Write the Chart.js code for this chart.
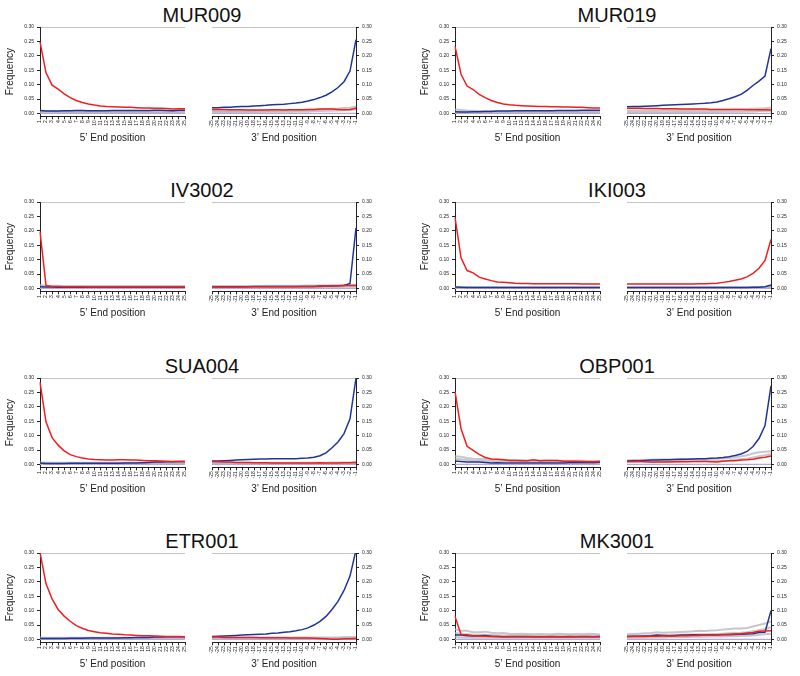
<!DOCTYPE html>
<html><head><meta charset="utf-8">
<script src="https://cdn.jsdelivr.net/npm/chart.js@4.4.1/dist/chart.umd.min.js"></script>
<style>
html,body{margin:0;padding:0;background:#fff;overflow:hidden;width:800px;height:676px;}
#wrap{position:relative;width:800px;height:676px;overflow:hidden;}
canvas{position:absolute;}
.ttl{position:absolute;font-family:"Liberation Sans",Arial,sans-serif;font-size:20px;color:#111;width:200px;text-align:center;line-height:24px;}
</style></head><body><div id="wrap"></div>
<script>
// ---------- tick labels / categories ----------
const POS5 = ['1','2','3','4','5','6','7','8','9','10','11','12','13','14','15','16','17','18','19','20','21','22','23','24','25'];
const POS3 = ['-25','-24','-23','-22','-21','-20','-19','-18','-17','-16','-15','-14','-13','-12','-11','-10','-9','-8','-7','-6','-5','-4','-3','-2','-1'];
const YTICKS = ['0.00','0.05','0.10','0.15','0.20','0.25','0.30'];
const SAMPLES = ['MUR009','MUR019','IV3002','IKI003','SUA004','OBP001','ETR001','MK3001'];
const ZERO = [0,0,0,0,0,0,0,0,0,0,0,0,0,0,0,0,0,0,0,0,0,0,0,0,0];

// ---------- MUR009 ----------
const MUR009_CT5 = [0.248,0.141,0.098,0.084,0.068,0.055,0.045,0.038,0.033,0.029,0.026,0.024,0.023,0.022,0.021,0.021,0.020,0.019,0.019,0.018,0.018,0.017,0.015,0.016,0.016];
const MUR009_GA5 = [0.010,0.008,0.008,0.008,0.009,0.009,0.010,0.010,0.009,0.009,0.009,0.009,0.010,0.010,0.010,0.010,0.010,0.010,0.010,0.011,0.011,0.010,0.009,0.011,0.011];
const MUR009_O5A = [0.009,0.008,0.008,0.007,0.007,0.007,0.007,0.007,0.007,0.007,0.007,0.006,0.006,0.006,0.006,0.006,0.006,0.006,0.006,0.006,0.006,0.006,0.006,0.007,0.007];
const MUR009_O5B = [0.004,0.004,0.004,0.004,0.003,0.003,0.003,0.003,0.003,0.003,0.003,0.003,0.003,0.003,0.003,0.003,0.003,0.003,0.003,0.003,0.003,0.003,0.003,0.003,0.004];
const MUR009_CT3 = [0.014,0.014,0.014,0.013,0.013,0.013,0.012,0.012,0.012,0.012,0.013,0.013,0.012,0.013,0.013,0.013,0.014,0.014,0.015,0.015,0.015,0.014,0.013,0.014,0.018];
const MUR009_GA3 = [0.020,0.020,0.021,0.021,0.023,0.024,0.024,0.026,0.027,0.028,0.030,0.031,0.032,0.034,0.036,0.039,0.043,0.048,0.055,0.063,0.075,0.090,0.110,0.147,0.256];
const MUR009_O3A = [0.008,0.008,0.008,0.008,0.009,0.009,0.009,0.009,0.010,0.010,0.010,0.010,0.011,0.011,0.011,0.012,0.012,0.013,0.014,0.015,0.016,0.017,0.019,0.020,0.023];
const MUR009_O3B = [0.004,0.004,0.004,0.005,0.005,0.005,0.005,0.005,0.005,0.006,0.006,0.006,0.006,0.006,0.007,0.007,0.007,0.008,0.008,0.009,0.009,0.010,0.011,0.012,0.014];

// ---------- MUR019 ----------
const MUR019_CT5 = [0.233,0.136,0.095,0.083,0.066,0.055,0.045,0.038,0.033,0.030,0.028,0.027,0.026,0.025,0.024,0.024,0.023,0.023,0.022,0.022,0.021,0.021,0.020,0.019,0.019];
const MUR019_GA5 = [0.006,0.005,0.005,0.006,0.006,0.007,0.007,0.008,0.008,0.008,0.009,0.009,0.009,0.009,0.009,0.009,0.009,0.010,0.010,0.010,0.010,0.011,0.011,0.011,0.011];
const MUR019_O5A = [0.014,0.012,0.010,0.009,0.008,0.008,0.008,0.007,0.007,0.007,0.007,0.007,0.007,0.007,0.007,0.007,0.007,0.007,0.007,0.007,0.007,0.007,0.007,0.007,0.007];
const MUR019_O5B = [0.005,0.004,0.004,0.003,0.003,0.003,0.003,0.003,0.003,0.003,0.003,0.003,0.003,0.003,0.003,0.003,0.003,0.003,0.003,0.003,0.003,0.003,0.003,0.003,0.003];
const MUR019_CT3 = [0.018,0.018,0.018,0.017,0.017,0.017,0.016,0.016,0.016,0.015,0.015,0.015,0.015,0.015,0.014,0.014,0.014,0.014,0.014,0.014,0.013,0.013,0.013,0.013,0.012];
const MUR019_GA3 = [0.023,0.024,0.024,0.025,0.026,0.027,0.028,0.029,0.030,0.031,0.032,0.033,0.034,0.035,0.037,0.040,0.045,0.051,0.058,0.066,0.080,0.097,0.112,0.130,0.225];
const MUR019_O3A = [0.010,0.010,0.010,0.010,0.010,0.010,0.011,0.011,0.011,0.011,0.011,0.012,0.012,0.012,0.012,0.013,0.013,0.013,0.014,0.014,0.015,0.016,0.017,0.018,0.020];
const MUR019_O3B = [0.004,0.004,0.004,0.004,0.004,0.004,0.004,0.004,0.005,0.005,0.005,0.005,0.005,0.005,0.005,0.005,0.006,0.006,0.006,0.006,0.007,0.007,0.008,0.008,0.009];

// ---------- IV3002 ----------
const IV3002_CT5 = [0.197,0.010,0.007,0.007,0.006,0.006,0.006,0.006,0.005,0.005,0.005,0.005,0.005,0.005,0.005,0.005,0.005,0.005,0.005,0.005,0.005,0.005,0.005,0.005,0.005];
const IV3002_GA5 = [0.006,0.005,0.005,0.004,0.004,0.004,0.004,0.004,0.004,0.004,0.004,0.004,0.004,0.004,0.004,0.004,0.004,0.004,0.004,0.004,0.004,0.004,0.004,0.004,0.004];
const IV3002_O5A = [0.012,0.010,0.009,0.009,0.008,0.008,0.008,0.008,0.008,0.008,0.008,0.008,0.008,0.008,0.008,0.008,0.008,0.008,0.008,0.008,0.008,0.008,0.008,0.008,0.008];
const IV3002_O5B = [0.005,0.004,0.004,0.004,0.004,0.004,0.004,0.004,0.004,0.004,0.004,0.004,0.004,0.004,0.004,0.004,0.004,0.004,0.004,0.004,0.004,0.004,0.004,0.004,0.004];
const IV3002_CT3 = [0.005,0.005,0.005,0.005,0.005,0.005,0.006,0.006,0.006,0.006,0.006,0.006,0.006,0.006,0.006,0.007,0.007,0.007,0.007,0.008,0.008,0.009,0.010,0.010,0.010];
const IV3002_GA3 = [0.006,0.006,0.006,0.006,0.006,0.006,0.006,0.007,0.007,0.007,0.007,0.007,0.007,0.007,0.007,0.007,0.007,0.007,0.008,0.008,0.009,0.009,0.010,0.017,0.210];
const IV3002_O3A = [0.008,0.008,0.008,0.008,0.008,0.008,0.008,0.008,0.008,0.009,0.009,0.009,0.009,0.009,0.009,0.009,0.010,0.010,0.010,0.010,0.011,0.011,0.012,0.012,0.013];
const IV3002_O3B = [0.004,0.004,0.004,0.004,0.004,0.004,0.004,0.004,0.004,0.004,0.004,0.004,0.004,0.004,0.005,0.005,0.005,0.005,0.005,0.005,0.005,0.005,0.006,0.006,0.006];

// ---------- IKI003 ----------
const IKI003_CT5 = [0.247,0.106,0.062,0.054,0.039,0.033,0.027,0.022,0.021,0.020,0.018,0.017,0.017,0.016,0.016,0.016,0.016,0.016,0.016,0.016,0.016,0.015,0.015,0.015,0.015];
const IKI003_GA5 = [0.005,0.004,0.003,0.003,0.003,0.003,0.003,0.003,0.003,0.003,0.003,0.003,0.003,0.003,0.003,0.003,0.003,0.003,0.003,0.003,0.003,0.003,0.003,0.003,0.003];
const IKI003_O5A = [0.005,0.004,0.004,0.004,0.004,0.004,0.004,0.004,0.004,0.004,0.004,0.004,0.004,0.004,0.004,0.004,0.004,0.004,0.004,0.004,0.004,0.004,0.004,0.004,0.004];
const IKI003_O5B = [0.002,0.002,0.002,0.002,0.002,0.002,0.002,0.002,0.002,0.002,0.002,0.002,0.002,0.002,0.002,0.002,0.002,0.002,0.002,0.002,0.002,0.002,0.002,0.002,0.002];
const IKI003_CT3 = [0.015,0.015,0.015,0.015,0.015,0.015,0.015,0.015,0.015,0.015,0.015,0.015,0.016,0.016,0.017,0.018,0.021,0.024,0.028,0.033,0.040,0.052,0.070,0.097,0.170];
const IKI003_GA3 = [0.003,0.003,0.003,0.003,0.003,0.003,0.003,0.003,0.003,0.003,0.003,0.003,0.003,0.003,0.003,0.003,0.003,0.003,0.003,0.003,0.003,0.004,0.004,0.006,0.012];
const IKI003_O3A = [0.004,0.004,0.004,0.004,0.004,0.004,0.004,0.004,0.004,0.004,0.004,0.004,0.004,0.004,0.004,0.004,0.004,0.004,0.004,0.004,0.004,0.004,0.005,0.005,0.005];
const IKI003_O3B = [0.002,0.002,0.002,0.002,0.002,0.002,0.002,0.002,0.002,0.002,0.002,0.002,0.002,0.002,0.002,0.002,0.002,0.002,0.002,0.002,0.002,0.002,0.002,0.002,0.002];

// ---------- SUA004 ----------
const SUA004_CT5 = [0.285,0.147,0.093,0.067,0.047,0.034,0.027,0.022,0.019,0.017,0.016,0.015,0.015,0.016,0.016,0.015,0.015,0.014,0.013,0.013,0.012,0.011,0.010,0.010,0.010];
const SUA004_GA5 = [0.005,0.003,0.003,0.003,0.003,0.004,0.004,0.004,0.004,0.004,0.004,0.004,0.004,0.004,0.005,0.005,0.005,0.006,0.007,0.008,0.008,0.009,0.009,0.010,0.010];
const SUA004_O5A = [0.007,0.006,0.006,0.006,0.006,0.006,0.006,0.006,0.006,0.006,0.006,0.006,0.006,0.006,0.006,0.006,0.006,0.006,0.006,0.006,0.006,0.006,0.006,0.006,0.006];
const SUA004_O5B = [0.003,0.003,0.003,0.003,0.003,0.003,0.003,0.003,0.003,0.003,0.003,0.003,0.003,0.003,0.003,0.003,0.003,0.003,0.003,0.003,0.003,0.003,0.003,0.003,0.003];
const SUA004_CT3 = [0.010,0.009,0.008,0.008,0.007,0.007,0.007,0.006,0.006,0.006,0.005,0.005,0.005,0.005,0.005,0.005,0.005,0.005,0.006,0.005,0.005,0.005,0.006,0.006,0.007];
const SUA004_GA3 = [0.012,0.012,0.013,0.014,0.015,0.016,0.017,0.018,0.019,0.019,0.020,0.020,0.020,0.020,0.020,0.021,0.022,0.025,0.030,0.040,0.058,0.078,0.107,0.158,0.300];
const SUA004_O3A = [0.006,0.006,0.006,0.006,0.006,0.006,0.006,0.006,0.006,0.006,0.006,0.006,0.006,0.006,0.006,0.006,0.006,0.006,0.006,0.006,0.007,0.007,0.007,0.007,0.008];
const SUA004_O3B = [0.003,0.003,0.003,0.003,0.003,0.003,0.003,0.003,0.003,0.003,0.003,0.003,0.003,0.003,0.003,0.003,0.003,0.003,0.003,0.003,0.003,0.003,0.003,0.004,0.004];

// ---------- OBP001 ----------
const OBP001_CT5 = [0.253,0.124,0.063,0.049,0.035,0.024,0.019,0.018,0.016,0.014,0.014,0.013,0.013,0.016,0.013,0.014,0.014,0.014,0.011,0.011,0.011,0.010,0.009,0.009,0.010];
const OBP001_GA5 = [0.012,0.010,0.008,0.008,0.008,0.007,0.005,0.006,0.005,0.005,0.005,0.005,0.005,0.005,0.005,0.005,0.005,0.005,0.005,0.006,0.006,0.006,0.006,0.006,0.007];
const OBP001_O5A = [0.028,0.027,0.022,0.020,0.019,0.018,0.017,0.016,0.016,0.015,0.015,0.015,0.014,0.014,0.014,0.014,0.014,0.013,0.013,0.013,0.013,0.013,0.012,0.012,0.012];
const OBP001_O5B = [0.020,0.018,0.015,0.013,0.012,0.011,0.011,0.010,0.010,0.010,0.010,0.010,0.010,0.010,0.009,0.009,0.009,0.009,0.009,0.009,0.009,0.009,0.009,0.009,0.009];
const OBP001_CT3 = [0.010,0.010,0.011,0.009,0.008,0.008,0.008,0.008,0.009,0.010,0.009,0.010,0.010,0.010,0.009,0.008,0.011,0.013,0.013,0.015,0.016,0.018,0.022,0.025,0.029];
const OBP001_GA3 = [0.012,0.013,0.013,0.014,0.015,0.015,0.016,0.016,0.017,0.018,0.018,0.019,0.020,0.020,0.021,0.022,0.024,0.027,0.031,0.036,0.045,0.062,0.090,0.135,0.273];
const OBP001_O3A = [0.014,0.015,0.015,0.016,0.016,0.017,0.017,0.017,0.018,0.018,0.018,0.019,0.019,0.019,0.020,0.020,0.021,0.022,0.025,0.028,0.032,0.038,0.042,0.044,0.046];
const OBP001_O3B = [0.008,0.008,0.009,0.009,0.009,0.010,0.010,0.010,0.010,0.011,0.011,0.011,0.011,0.012,0.012,0.012,0.013,0.014,0.016,0.018,0.020,0.024,0.028,0.032,0.036];

// ---------- ETR001 ----------
const ETR001_CT5 = [0.302,0.193,0.141,0.104,0.081,0.063,0.048,0.039,0.031,0.027,0.023,0.021,0.019,0.018,0.016,0.015,0.014,0.013,0.013,0.012,0.011,0.010,0.010,0.010,0.009];
const ETR001_GA5 = [0.003,0.003,0.003,0.003,0.003,0.004,0.004,0.004,0.005,0.005,0.005,0.005,0.005,0.005,0.006,0.006,0.007,0.007,0.007,0.008,0.008,0.009,0.009,0.009,0.009];
const ETR001_O5A = [0.007,0.006,0.006,0.006,0.006,0.006,0.006,0.006,0.006,0.006,0.006,0.006,0.006,0.006,0.006,0.006,0.006,0.006,0.007,0.007,0.007,0.007,0.007,0.007,0.007];
const ETR001_O5B = [0.003,0.003,0.003,0.003,0.003,0.003,0.003,0.003,0.003,0.003,0.003,0.003,0.003,0.003,0.003,0.003,0.003,0.003,0.003,0.003,0.003,0.003,0.003,0.003,0.003];
const ETR001_CT3 = [0.008,0.008,0.007,0.007,0.007,0.007,0.007,0.007,0.006,0.006,0.006,0.006,0.006,0.005,0.005,0.005,0.005,0.004,0.003,0.002,0.001,0.001,0.002,0.002,0.003];
const ETR001_GA3 = [0.010,0.011,0.012,0.013,0.014,0.015,0.016,0.017,0.018,0.019,0.021,0.022,0.025,0.027,0.030,0.034,0.040,0.050,0.063,0.080,0.104,0.132,0.170,0.220,0.310];
const ETR001_O3A = [0.007,0.007,0.007,0.007,0.007,0.007,0.007,0.007,0.007,0.007,0.007,0.007,0.007,0.007,0.007,0.007,0.007,0.007,0.007,0.007,0.007,0.007,0.008,0.008,0.008];
const ETR001_O3B = [0.003,0.003,0.003,0.003,0.003,0.003,0.003,0.003,0.003,0.003,0.003,0.003,0.003,0.003,0.003,0.003,0.003,0.003,0.003,0.003,0.003,0.003,0.003,0.004,0.004];

// ---------- MK3001 ----------
const MK3001_CT5 = [0.080,0.017,0.016,0.013,0.012,0.011,0.010,0.010,0.009,0.010,0.010,0.010,0.010,0.009,0.009,0.009,0.010,0.009,0.009,0.010,0.009,0.010,0.010,0.009,0.009];
const MK3001_GA5 = [0.015,0.015,0.013,0.012,0.013,0.014,0.011,0.010,0.009,0.009,0.009,0.009,0.009,0.009,0.009,0.009,0.009,0.009,0.009,0.009,0.009,0.009,0.009,0.009,0.010];
const MK3001_O5A = [0.035,0.030,0.030,0.025,0.025,0.027,0.023,0.021,0.022,0.020,0.019,0.020,0.019,0.018,0.019,0.018,0.018,0.020,0.019,0.018,0.019,0.018,0.020,0.019,0.017];
const MK3001_O5B = [0.022,0.019,0.018,0.016,0.016,0.016,0.015,0.014,0.014,0.014,0.013,0.013,0.013,0.013,0.013,0.013,0.013,0.013,0.013,0.013,0.013,0.013,0.013,0.013,0.013];
const MK3001_O5C = [0.008,0.007,0.007,0.006,0.006,0.006,0.006,0.006,0.006,0.006,0.006,0.006,0.006,0.006,0.006,0.006,0.006,0.006,0.006,0.006,0.006,0.006,0.006,0.006,0.006];
const MK3001_CT3 = [0.010,0.010,0.010,0.010,0.011,0.011,0.012,0.012,0.012,0.013,0.013,0.014,0.014,0.015,0.015,0.016,0.017,0.018,0.019,0.020,0.022,0.024,0.028,0.029,0.030];
const MK3001_GA3 = [0.010,0.011,0.011,0.012,0.013,0.015,0.014,0.013,0.014,0.015,0.015,0.016,0.015,0.015,0.015,0.015,0.016,0.016,0.017,0.018,0.019,0.020,0.024,0.025,0.100];
const MK3001_O3A = [0.018,0.019,0.020,0.021,0.022,0.025,0.023,0.024,0.025,0.026,0.027,0.028,0.030,0.029,0.031,0.032,0.034,0.036,0.038,0.038,0.040,0.045,0.050,0.055,0.062];
const MK3001_O3B = [0.012,0.012,0.013,0.013,0.014,0.014,0.015,0.015,0.016,0.016,0.017,0.017,0.018,0.018,0.019,0.019,0.020,0.021,0.022,0.023,0.025,0.028,0.032,0.036,0.042];
const MK3001_O3C = [0.006,0.006,0.006,0.007,0.007,0.007,0.007,0.008,0.008,0.008,0.008,0.009,0.009,0.009,0.010,0.010,0.010,0.011,0.011,0.012,0.013,0.014,0.016,0.018,0.020];

const PANELS = [
  {ct5:MUR009_CT5, ga5:MUR009_GA5, o5:[MUR009_O5A,MUR009_O5B], ct3:MUR009_CT3, ga3:MUR009_GA3, o3:[MUR009_O3A,MUR009_O3B]},
  {ct5:MUR019_CT5, ga5:MUR019_GA5, o5:[MUR019_O5A,MUR019_O5B], ct3:MUR019_CT3, ga3:MUR019_GA3, o3:[MUR019_O3A,MUR019_O3B]},
  {ct5:IV3002_CT5, ga5:IV3002_GA5, o5:[IV3002_O5A,IV3002_O5B], ct3:IV3002_CT3, ga3:IV3002_GA3, o3:[IV3002_O3A,IV3002_O3B]},
  {ct5:IKI003_CT5, ga5:IKI003_GA5, o5:[IKI003_O5A,IKI003_O5B], ct3:IKI003_CT3, ga3:IKI003_GA3, o3:[IKI003_O3A,IKI003_O3B]},
  {ct5:SUA004_CT5, ga5:SUA004_GA5, o5:[SUA004_O5A,SUA004_O5B], ct3:SUA004_CT3, ga3:SUA004_GA3, o3:[SUA004_O3A,SUA004_O3B]},
  {ct5:OBP001_CT5, ga5:OBP001_GA5, o5:[OBP001_O5A,OBP001_O5B], ct3:OBP001_CT3, ga3:OBP001_GA3, o3:[OBP001_O3A,OBP001_O3B]},
  {ct5:ETR001_CT5, ga5:ETR001_GA5, o5:[ETR001_O5A,ETR001_O5B], ct3:ETR001_CT3, ga3:ETR001_GA3, o3:[ETR001_O3A,ETR001_O3B]},
  {ct5:MK3001_CT5, ga5:MK3001_GA5, o5:[MK3001_O5A,MK3001_O5B,MK3001_O5C], ct3:MK3001_CT3, ga3:MK3001_GA3, o3:[MK3001_O3A,MK3001_O3B,MK3001_O3C]}
];

// ---------- drawing ----------
const FONT = '"Liberation Sans", Arial, Helvetica, sans-serif';
const RED = 'rgb(240,30,32)';
const BLUE = 'rgb(32,52,152)';
const GRAY = 'rgba(175,175,175,0.7)';
const PURPLE = 'rgb(180,170,215)';
const DARK = '#222';
const wrap = document.getElementById('wrap');
const COLX = [0, 415];
const ROWY = [0, 175, 351, 526];

function makeChart(x, y, w, side, labels, ct, ga, others) {
  const cv = document.createElement('canvas');
  cv.width = w; cv.height = 130;
  cv.style.left = x + 'px'; cv.style.top = y + 'px';
  cv.style.width = w + 'px'; cv.style.height = '130px';
  wrap.appendChild(cv);
  const datasets = [
    {data: ct, borderColor: RED, borderWidth: 1.5},
    {data: ga, borderColor: BLUE, borderWidth: 1.5},
    {data: ZERO, borderColor: PURPLE, borderWidth: 1.3}
  ];
  others.forEach(o => datasets.push({data: o, borderColor: GRAY, borderWidth: 2}));
  const isLeft = side === 'left';
  new Chart(cv, {
    type: 'line',
    data: {labels: labels, datasets: datasets},
    options: {
      responsive: false, animation: false, devicePixelRatio: 1,
      layout: {padding: {top: 7, bottom: 3.7, left: isLeft ? 0 : 12, right: isLeft ? 10 : 0}},
      plugins: {legend: {display: false}, tooltip: {enabled: false}, title: {display: false}},
      elements: {point: {radius: 0}, line: {tension: 0, fill: false}},
      scales: {
        x: {
          type: 'category', offset: false,
          grid: {drawOnChartArea: false, drawTicks: true, tickLength: 3, tickColor: DARK, lineWidth: 1},
          border: {display: true, color: DARK, width: 1},
          ticks: {autoSkip: false, minRotation: 90, maxRotation: 90, padding: 1, color: DARK, font: {size: 5, family: FONT}},
          title: {display: true, text: isLeft ? '5\u2019 End position' : '3\u2019 End position', color: '#222',
                  font: {size: 10, family: FONT}, padding: {top: 0, bottom: 2}},
          afterFit: s => { s.height = 30; }
        },
        y: {
          type: 'linear', position: side, min: -0.01, max: 0.30,
          afterBuildTicks: s => { s.ticks = YTICKS.map(t => ({value: parseFloat(t)})); },
          ticks: {callback: (v, i) => YTICKS[i], padding: 3, color: DARK, font: {size: 5, family: FONT}},
          grid: {drawOnChartArea: true, color: c => (c.tick && c.tick.value === 0.3) ? '#c4c4c4' : 'rgba(0,0,0,0)',
                 tickColor: DARK, tickLength: 3, lineWidth: 1},
          border: {display: true, color: DARK, width: 1},
          title: {display: isLeft, text: 'Frequency', color: '#222', font: {size: 10, family: FONT}, padding: {top: 4, bottom: 0}},
          afterFit: s => { s.width = isLeft ? 40 : 29; }
        }
      }
    }
  });
}

PANELS.forEach((p, i) => {
  const ox = COLX[i % 2], oy = ROWY[Math.floor(i / 2)];
  const t = document.createElement('div');
  t.className = 'ttl';
  t.textContent = SAMPLES[i];
  t.style.left = (ox + 102) + 'px';
  t.style.top = (oy + 3) + 'px';
  wrap.appendChild(t);
  makeChart(ox, oy + 20, 195, 'left', POS5, p.ct5, p.ga5, p.o5);
  makeChart(ox + 200, oy + 20, 185, 'right', POS3, p.ct3, p.ga3, p.o3);
});
</script>
</body></html>
